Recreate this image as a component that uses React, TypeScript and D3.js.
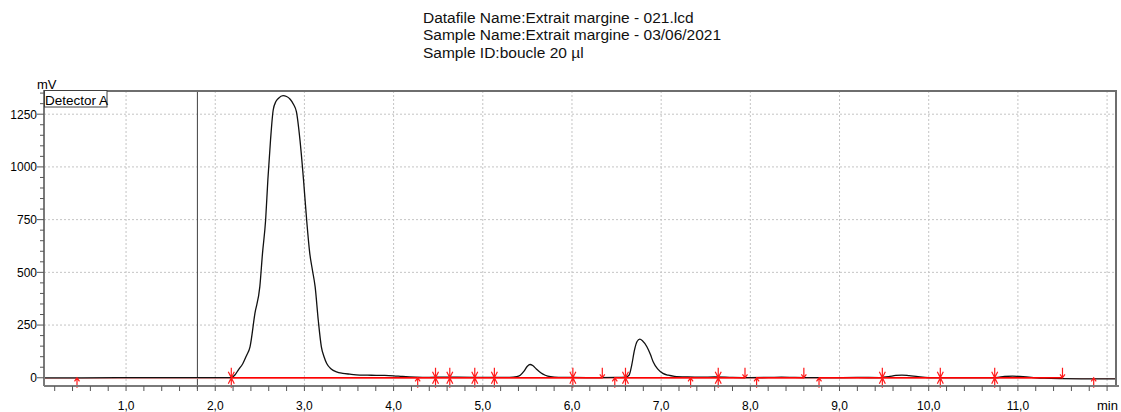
import React, { useRef, useEffect } from "react";
import * as d3 from "d3";

const titleLines = [
  "Datafile Name:Extrait margine - 021.lcd",
  "Sample Name:Extrait margine - 03/06/2021",
  "Sample ID:boucle 20 µl",
];

// retention time (min) and signal (mV)
const traceTime = [
  0.08, 0.5, 0.95, 1.2, 1.5, 1.8, 2.0, 2.18, 2.22, 2.26, 2.31, 2.35, 2.39, 2.445, 2.5, 2.53,
  2.565, 2.59, 2.62, 2.65, 2.68, 2.71, 2.76, 2.8, 2.84, 2.88, 2.91, 2.95, 2.99, 3.025, 3.06,
  3.09, 3.12, 3.155, 3.19, 3.22, 3.25, 3.3, 3.36, 3.43, 3.51, 3.62, 3.75, 3.9, 4.0, 4.1, 4.25,
  4.4, 4.55, 4.7, 4.9, 5.1, 5.3, 5.38, 5.42, 5.46, 5.5, 5.53, 5.56, 5.6, 5.65, 5.7, 5.76, 5.85,
  6.0, 6.3, 6.5, 6.6, 6.64, 6.67, 6.7, 6.73, 6.76, 6.79, 6.84, 6.88, 6.91, 6.96, 7.02, 7.08,
  7.15, 7.3, 7.45, 7.6, 7.8, 8.0, 8.2, 8.35, 8.5, 8.7, 9.0, 9.2, 9.45, 9.55, 9.63, 9.7, 9.78,
  9.88, 10.0, 10.4, 10.75, 10.85, 10.94, 11.02, 11.15, 11.3, 11.5, 11.8, 12.1,
];
const traceMv = [
  0, 0, 0.5, 0.6, 0.5, 0.4, 0.3, 0.5, 13, 38, 68, 105, 147, 305, 432, 590,
  748, 938, 1128, 1270, 1310, 1326, 1338, 1334, 1321, 1295, 1262, 1128, 938, 748, 590,
  510, 432, 274, 147, 100, 68, 42, 28, 21, 17, 13, 12, 11, 9, 6, 3,
  2, 3, 2.5, 2, 2, 2, 5, 12, 30, 55, 63, 58, 42, 24, 12, 5, 2,
  1.5, 1, 1.5, 3, 12, 60, 130, 172, 183, 176, 147, 110, 76, 42, 21, 12,
  7, 4, 3, 4, 2, 1, 1.5, 3, 1.5, 0.5, 1, 1.5, 1, 5, 11, 13, 10,
  5, 1, 0.5, 1, 6, 8, 6, 2, -2, -4, -5, -5,
];

const xMajorTicks = [1, 2, 3, 4, 5, 6, 7, 8, 9, 10, 11, 12];
const xLabels = ["1,0", "2,0", "3,0", "4,0", "5,0", "6,0", "7,0", "8,0", "9,0", "10,0", "11,0", ""];
const yMajorTicks = [0, 250, 500, 750, 1000, 1250];
const yLabels = ["0", "250", "500", "750", "1000", "1250"];

// peak start (s), end (e) and end+start (b) marks
const markerTime = [
  0.45, 2.18, 4.27, 4.47, 4.63, 4.91, 5.13, 6.01, 6.34, 6.48, 6.6, 7.33, 7.64, 7.94,
  8.07, 8.6, 8.77, 9.48, 10.13, 10.74, 11.5, 11.85,
];
const markerKind = [
  "s", "b", "s", "b", "b", "b", "b", "b", "e", "s", "b", "s", "b", "e",
  "s", "e", "s", "b", "b", "b", "e", "s",
];

// integration baselines
const baselineStart = [2.18, 6.48, 8.07, 8.77];
const baselineEnd = [6.34, 7.94, 8.6, 11.5];

const cursorTime = 1.8;

export default function App() {
  const svgRef = useRef<SVGSVGElement>(null);

  useEffect(() => {
    document.body.style.margin = "0";
    const W = 1121, H = 412;
    const left = 44, right = 1116, top = 91, bottom = 386;
    const font = "'Liberation Sans', Arial, sans-serif";

    const svg = d3.select(svgRef.current).attr("width", W).attr("height", H);
    svg.selectAll("*").remove();

    const x = d3.scaleLinear().domain([0.08, 12.1]).range([left, right]);
    const y = d3.scaleLinear().domain([-39, 1360]).range([bottom, top]);

    svg.append("rect").attr("width", W).attr("height", H).attr("fill", "#fff");

    // title block
    svg.append("g")
      .selectAll("text")
      .data(titleLines)
      .enter().append("text")
      .attr("x", 423)
      .attr("y", (d, i) => 22.5 + i * 17.5)
      .attr("font-family", font)
      .attr("font-size", 15.5)
      .attr("fill", "#111")
      .text((d) => d);

    // grid
    svg.append("g")
      .selectAll("line")
      .data(xMajorTicks)
      .enter().append("line")
      .attr("x1", (d) => x(d)).attr("x2", (d) => x(d))
      .attr("y1", top).attr("y2", bottom)
      .attr("stroke", "#c4c4c4")
      .attr("stroke-dasharray", "2,2");
    svg.append("g")
      .selectAll("line")
      .data(yMajorTicks.slice(1))
      .enter().append("line")
      .attr("x1", left).attr("x2", right)
      .attr("y1", (d) => y(d)).attr("y2", (d) => y(d))
      .attr("stroke", "#c4c4c4")
      .attr("stroke-dasharray", "2,2");

    // cursor line
    svg.append("line")
      .attr("x1", x(cursorTime)).attr("x2", x(cursorTime))
      .attr("y1", top).attr("y2", bottom + 3)
      .attr("stroke", "#404040");

    // zero line
    svg.append("line")
      .attr("x1", left).attr("x2", right)
      .attr("y1", y(0) + 0.8).attr("y2", y(0) + 0.8)
      .attr("stroke", "#f29a9a");

    svg.append("clipPath").attr("id", "plotclip")
      .append("rect").attr("x", left).attr("y", top).attr("width", right - left).attr("height", bottom - top);

    // chromatogram
    const line = d3.line<number>()
      .x((d, i) => x(traceTime[i]))
      .y((d) => y(d))
      .curve(d3.curveMonotoneX);
    svg.append("path")
      .datum(traceMv)
      .attr("clip-path", "url(#plotclip)")
      .attr("fill", "none")
      .attr("stroke", "#111")
      .attr("stroke-width", 1.3)
      .attr("d", line);

    // baselines
    svg.append("g")
      .selectAll("line")
      .data(baselineStart)
      .enter().append("line")
      .attr("x1", (d) => x(d)).attr("x2", (d, i) => x(baselineEnd[i]))
      .attr("y1", y(0)).attr("y2", y(0))
      .attr("stroke", "#ff0000")
      .attr("stroke-width", 1.6);

    // peak marks
    const marks = svg.append("g").attr("stroke", "#ff1a1a").attr("stroke-width", 1.2).attr("fill", "none");
    markerTime.forEach((t, i) => {
      const mx = x(t), my = y(0);
      const k = markerKind[i];
      if (k === "b") {
        marks.append("path").attr("d",
          `M${mx},${my - 10}V${my + 10}M${mx - 3},${my - 6}L${mx + 3},${my + 6}M${mx + 3},${my - 6}L${mx - 3},${my + 6}`);
      } else if (k === "s") {
        marks.append("path").attr("d", `M${mx},${my + 10}V${my}M${mx - 2.5},${my + 3.5}L${mx},${my}L${mx + 2.5},${my + 3.5}`);
      } else {
        marks.append("path").attr("d", `M${mx},${my - 10}V${my}M${mx - 2.5},${my - 3.5}L${mx},${my}L${mx + 2.5},${my - 3.5}`);
      }
    });

    // frame
    svg.append("line").attr("x1", left).attr("x2", right + 1).attr("y1", top).attr("y2", top)
      .attr("stroke", "#6e6e6e").attr("stroke-width", 2);
    svg.append("line").attr("x1", right).attr("x2", right).attr("y1", top).attr("y2", bottom)
      .attr("stroke", "#6e6e6e").attr("stroke-width", 2);

    // x axis
    const xAxis = svg.append("g");
    xAxis.append("line").attr("x1", left).attr("x2", right + 3).attr("y1", bottom).attr("y2", bottom)
      .attr("stroke", "#7a7a7a").attr("stroke-width", 2);
    xAxis.selectAll(".minor")
      .data(d3.range(0.2, 12.01, 0.2))
      .enter().append("line")
      .attr("x1", (d) => x(d)).attr("x2", (d) => x(d))
      .attr("y1", bottom).attr("y2", bottom + 5)
      .attr("stroke", "#555");
    xAxis.selectAll("text")
      .data(xMajorTicks)
      .enter().append("text")
      .attr("x", (d) => x(d))
      .attr("y", 410)
      .attr("text-anchor", "middle")
      .attr("font-family", font)
      .attr("font-size", 12)
      .text((d, i) => xLabels[i]);
    svg.append("text").attr("x", 1097).attr("y", 410)
      .attr("font-family", font).attr("font-size", 13).text("min");

    // y axis
    const yAxis = svg.append("g");
    yAxis.append("line").attr("x1", left).attr("x2", left).attr("y1", top - 1).attr("y2", bottom)
      .attr("stroke", "#7a7a7a").attr("stroke-width", 2);
    yAxis.selectAll(".minor")
      .data(d3.range(0, 1351, 50))
      .enter().append("line")
      .attr("x1", (d) => (d % 250 === 0 ? left - 7 : left - 4)).attr("x2", left)
      .attr("y1", (d) => y(d)).attr("y2", (d) => y(d))
      .attr("stroke", "#555");
    yAxis.selectAll("text")
      .data(yMajorTicks)
      .enter().append("text")
      .attr("x", 37)
      .attr("y", (d) => y(d))
      .attr("dy", "0.36em")
      .attr("text-anchor", "end")
      .attr("font-family", font)
      .attr("font-size", 12)
      .text((d, i) => yLabels[i]);
    svg.append("text").attr("x", 37).attr("y", 89)
      .attr("font-family", font).attr("font-size", 13).text("mV");

    // legend box
    svg.append("rect").attr("x", 44.5).attr("y", 90.5).attr("width", 62.5).attr("height", 16.5)
      .attr("fill", "#fff").attr("stroke", "#404040");
    svg.append("text").attr("x", 45).attr("y", 104.5)
      .attr("font-family", font).attr("font-size", 13.5).text("Detector A");

    return () => {
      d3.select(svgRef.current).selectAll("*").remove();
    };
  }, []);

  return <svg ref={svgRef} style={{ display: "block" }}></svg>;
}
